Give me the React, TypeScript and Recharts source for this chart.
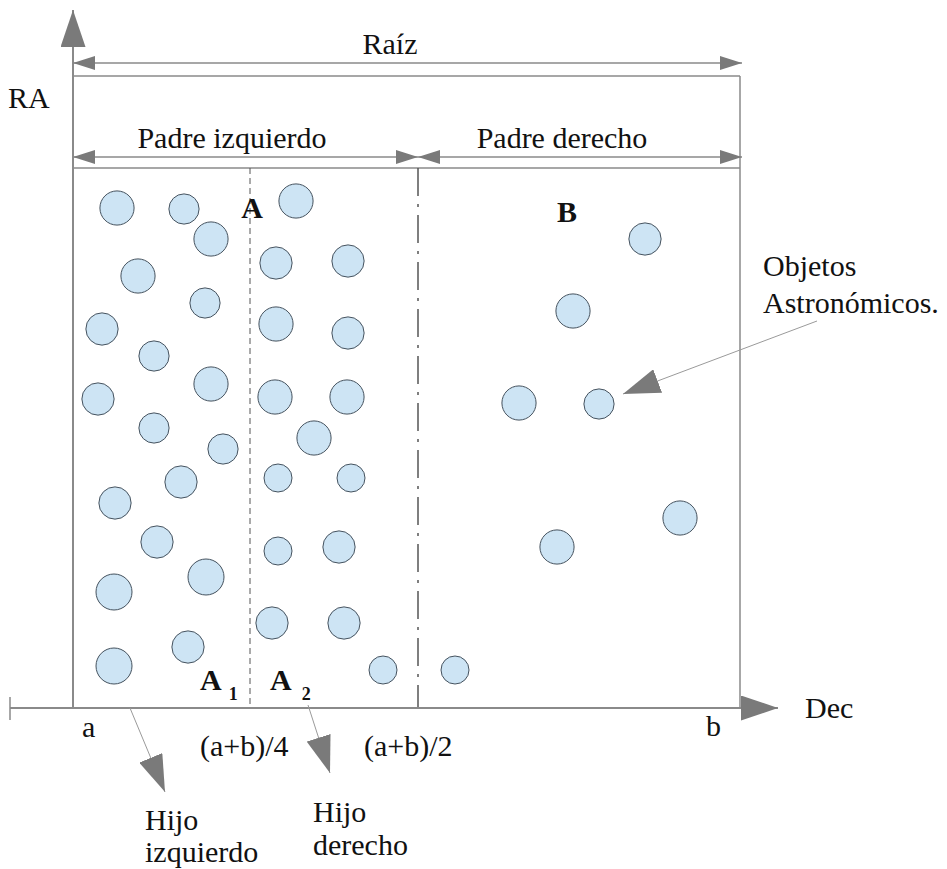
import React from "react"
import { ScatterChart, Scatter, XAxis, YAxis, ZAxis, ReferenceLine, ReferenceDot } from "recharts"

// objetos astronómicos: dec, ra (unidades del diagrama), z = tamaño aparente
const objetosA1 = [
  { dec: 117, ra: 208, z: 17 },
  { dec: 184, ra: 209, z: 15 },
  { dec: 211, ra: 239, z: 17 },
  { dec: 138, ra: 276, z: 17 },
  { dec: 205, ra: 303, z: 15 },
  { dec: 102, ra: 329, z: 16 },
  { dec: 154, ra: 356, z: 15 },
  { dec: 211, ra: 384, z: 17 },
  { dec: 98, ra: 399, z: 16 },
  { dec: 154, ra: 428, z: 15 },
  { dec: 223, ra: 449, z: 15 },
  { dec: 181, ra: 482, z: 16 },
  { dec: 115, ra: 503, z: 16 },
  { dec: 157, ra: 542, z: 16 },
  { dec: 206, ra: 577, z: 18 },
  { dec: 114, ra: 592, z: 18 },
  { dec: 188, ra: 647, z: 16 },
  { dec: 114, ra: 666, z: 18 },
]

const objetosA2 = [
  { dec: 296, ra: 201, z: 17 },
  { dec: 276, ra: 263, z: 16 },
  { dec: 348, ra: 261, z: 16 },
  { dec: 276, ra: 324, z: 17 },
  { dec: 348, ra: 333, z: 16 },
  { dec: 275, ra: 397, z: 17 },
  { dec: 347, ra: 397, z: 17 },
  { dec: 314, ra: 438, z: 17 },
  { dec: 278, ra: 478, z: 14 },
  { dec: 351, ra: 478, z: 14 },
  { dec: 278, ra: 551, z: 14 },
  { dec: 339, ra: 547, z: 16 },
  { dec: 272, ra: 623, z: 16 },
  { dec: 344, ra: 623, z: 16 },
  { dec: 383, ra: 670, z: 14 },
]

const objetosB = [
  { dec: 455, ra: 670, z: 14 },
  { dec: 645, ra: 239, z: 16 },
  { dec: 573, ra: 311, z: 17 },
  { dec: 519, ra: 403, z: 17 },
  { dec: 599, ra: 404, z: 15 },
  { dec: 680, ra: 518, z: 17 },
  { dec: 557, ra: 547, z: 17 },
]

// límites del árbol (dec) y niveles (ra)
const decA = 73
const decB = 740
const decMitad = 418
const decCuarto = 250
const raEje = 708
const raRaiz = 76
const raPadres = 168

// ejes, marco y divisiones
const marco = [
  [[decA, raRaiz], [decB, raRaiz]],
  [[decA, raPadres], [decB, raPadres]],
  [[decB, raRaiz], [decB, raEje]],
  [[10, 697], [10, 720]],
]
const ejes = [
  [[decA, raEje], [decA, 10]],
  [[10, raEje], [778, raEje]],
]
const cotas = [
  [[decA, 63], [742, 63]],
  [[decA, 157], [decMitad, 157]],
  [[decMitad, 157], [742, 157]],
]
const flechas = [
  [[130, raEje], [165, 792]],
  [[308, 705], [330, 773]],
  [[817, 321], [623, 394]],
]

const etiquetas = [
  { text: "Raíz", dec: 390, ra: 54, anchor: "middle" },
  { text: "RA", dec: 8, ra: 108, anchor: "start" },
  { text: "Padre izquierdo", dec: 232, ra: 148, anchor: "middle" },
  { text: "Padre derecho", dec: 562, ra: 148, anchor: "middle" },
  { text: "A", dec: 252, ra: 218, anchor: "middle", bold: true },
  { text: "B", dec: 567, ra: 222, anchor: "middle", bold: true },
  { text: "A", sub: "1", dx: 7, dec: 200, ra: 690, anchor: "start", bold: true },
  { text: "A", sub: "2", dx: 10, dec: 270, ra: 690, anchor: "start", bold: true },
  { text: "a", dec: 82, ra: 737, anchor: "start" },
  { text: "(a+b)/4", dec: 200, ra: 756, anchor: "start" },
  { text: "(a+b)/2", dec: 364, ra: 756, anchor: "start" },
  { text: "b", dec: 706, ra: 736, anchor: "start" },
  { text: "Dec", dec: 805, ra: 718, anchor: "start" },
  { text: "Objetos", dec: 763, ra: 276, anchor: "start" },
  { text: "Astronómicos.", dec: 763, ra: 313, anchor: "start" },
  { text: "Hijo", dec: 145, ra: 830, anchor: "start" },
  { text: "izquierdo", dec: 145, ra: 862, anchor: "start" },
  { text: "Hijo", dec: 313, ra: 822, anchor: "start" },
  { text: "derecho", dec: 313, ra: 855, anchor: "start" },
]

const W = 947
const H = 869
const font = '"Liberation Serif", "Times New Roman", serif'
const gris = "#8a8a8a"

const seg = (s: number[][]) => [
  { x: s[0][0], y: s[0][1] },
  { x: s[1][0], y: s[1][1] },
]

const textShape = (e: any) => (p: any) => (
  <text
    x={p.cx}
    y={p.cy}
    textAnchor={e.anchor}
    fontFamily={font}
    fontSize={30}
    fontWeight={e.bold ? "bold" : "normal"}
    fill="#111"
  >
    {e.text}
    {e.sub && (
      <tspan fontSize={18} dx={e.dx} dy={10}>
        {e.sub}
      </tspan>
    )}
  </text>
)

export default function App() {
  return (
    <div style={{ position: "absolute", left: 0, top: 0, width: W, height: H, background: "#fff" }}>
      <ScatterChart width={W} height={H} margin={{ top: 0, right: 0, bottom: 0, left: 0 }}>
        <defs>
          <marker id="punta" viewBox="0 0 37 25" refX={37} refY={12.5} markerWidth={37} markerHeight={25}
            markerUnits="userSpaceOnUse" orient="auto">
            <path d="M0,0 L37,12.5 L0,25 z" fill="#7a7a7a" />
          </marker>
          <marker id="cota" viewBox="0 0 22 14" refX={22} refY={7} markerWidth={22} markerHeight={14}
            markerUnits="userSpaceOnUse" orient="auto-start-reverse">
            <path d="M0,0 L22,7 L0,14 z" fill="#7a7a7a" />
          </marker>
        </defs>
        <XAxis type="number" dataKey="dec" domain={[0, W]} hide />
        <YAxis type="number" dataKey="ra" domain={[0, H]} reversed hide />
        <ZAxis type="number" dataKey="z" domain={[14, 18]} range={[615.75, 1017.88]} />

        {marco.map((s, i) => (
          <ReferenceLine key={`m${i}`} segment={seg(s)} stroke={gris} strokeWidth={1.5} />
        ))}
        <ReferenceLine segment={seg([[decCuarto, raPadres], [decCuarto, raEje]])}
          stroke="#555" strokeWidth={1} strokeDasharray="6 4" />
        <ReferenceLine segment={seg([[decMitad, raPadres], [decMitad, raEje]])}
          stroke="#555" strokeWidth={1.5} strokeDasharray="28 8 3 8" />
        {ejes.map((s, i) => (
          <ReferenceLine key={`e${i}`} segment={seg(s)} stroke={gris} strokeWidth={2} markerEnd="url(#punta)" />
        ))}
        {cotas.map((s, i) => (
          <ReferenceLine key={`c${i}`} segment={seg(s)} stroke={gris} strokeWidth={1.5}
            markerStart="url(#cota)" markerEnd="url(#cota)" />
        ))}
        {flechas.map((s, i) => (
          <ReferenceLine key={`f${i}`} segment={seg(s)} stroke="#9a9a9a" strokeWidth={1} markerEnd="url(#punta)" />
        ))}

        <Scatter data={objetosA1} fill="#cde4f4" stroke="#45525e" strokeWidth={1} isAnimationActive={false} />
        <Scatter data={objetosA2} fill="#cde4f4" stroke="#45525e" strokeWidth={1} isAnimationActive={false} />
        <Scatter data={objetosB} fill="#cde4f4" stroke="#45525e" strokeWidth={1} isAnimationActive={false} />

        {etiquetas.map((e, i) => (
          <ReferenceDot key={`t${i}`} x={e.dec} y={e.ra} r={1} shape={textShape(e)} />
        ))}
      </ScatterChart>
    </div>
  )
}
